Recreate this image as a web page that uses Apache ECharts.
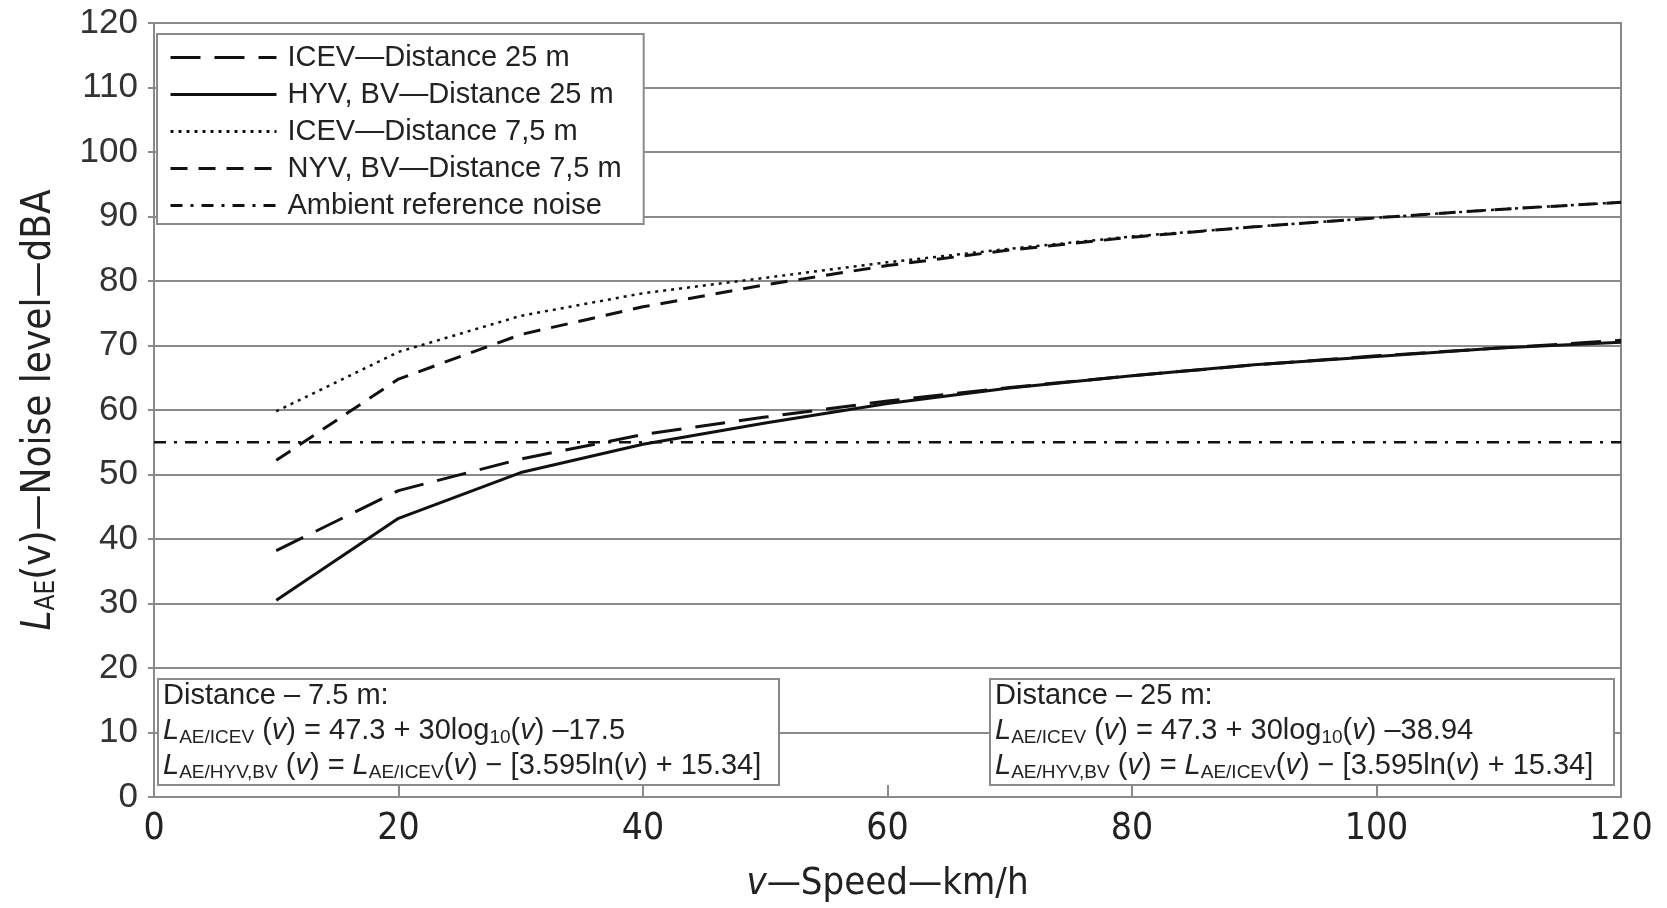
<!DOCTYPE html>
<html>
<head>
<meta charset="utf-8">
<script src="https://cdn.jsdelivr.net/npm/echarts@6/dist/echarts.min.js"></script>
<style>
  html, body { margin: 0; padding: 0; background: #fff; }
  #main { width: 1667px; height: 908px; }
</style>
</head>
<body>
<div id="main"></div>
<script>
// speeds in km/h
var speeds = [10, 20, 30, 40, 50, 60, 70, 80, 90, 100, 110, 120];
// values, dBA
var icev25 = [38.2, 47.5, 52.4, 56.2, 58.9, 61.4, 63.5, 65.3, 67.0, 68.4, 69.6, 70.8];
var hyv25 = [30.5, 43.2, 50.3, 54.7, 58.0, 61.0, 63.4, 65.3, 67.0, 68.3, 69.6, 70.5];
var icev75 = [59.8, 69.0, 74.6, 78.1, 80.5, 82.9, 85.0, 86.9, 88.4, 89.8, 91.1, 92.2];
var nyv75 = [52.2, 64.8, 71.7, 76.0, 79.4, 82.4, 84.8, 86.8, 88.4, 89.8, 91.1, 92.2];
var ambientSpeeds = [0, 120];
var ambient = [55, 55];
var yTicks = [0, 10, 20, 30, 40, 50, 60, 70, 80, 90, 100, 110, 120];
var xTicks = [0, 20, 40, 60, 80, 100, 120];

function pairs(xs, ys) {
  return xs.map(function (x, i) { return [x, ys[i]]; });
}

var myChart = echarts.init(document.getElementById('main'));

var txt = '#222';
var condensed = '"Liberation Sans Narrow", "DejaVu Sans Condensed", "Liberation Sans", Arial, sans-serif';
var sans = '"Liberation Sans", Arial, sans-serif';

function lineSeries(name, data, type, w) {
  return {
    name: name,
    type: 'line',
    data: data,
    symbol: 'none',
    showSymbol: false,
    animation: false,
    lineStyle: { color: '#111', width: w || 3, type: type },
    itemStyle: { color: '#111' },
    z: 5
  };
}

var boxRich = {
  n: { fontSize: 29, fontFamily: sans, color: txt },
  i: { fontSize: 29, fontFamily: sans, fontStyle: 'italic', color: txt },
  s: { fontSize: 19, fontFamily: sans, color: txt, padding: [14, 0, 0, 0] }
};

function formulaBox(left, top, w, head, tail) {
  return {
    type: 'group',
    left: left,
    top: top,
    z: 100,
    children: [
      {
        type: 'rect',
        z: 100,
        shape: { x: 0, y: 0, width: w, height: 106 },
        style: { fill: '#fff', stroke: '#8a8a8a', lineWidth: 2 }
      },
      {
        type: 'text',
        z: 101,
        x: 5, y: -1,
        style: {
          text: '{n|' + head + '}\n' +
            '{i|L}{s|AE/ICEV}{n| (}{i|v}{n|) = 47.3 + 30log}{s|10}{n|(}{i|v}{n|) ' + tail + '}\n' +
            '{i|L}{s|AE/HYV,BV}{n| (}{i|v}{n|) = }{i|L}{s|AE/ICEV}{n|(}{i|v}{n|) − [3.595ln(}{i|v}{n|) + 15.34]}',
          rich: boxRich,
          lineHeight: 35,
          fill: txt
        }
      }
    ]
  };
}

var option = {
  backgroundColor: '#fff',
  animation: false,
  grid: { left: 154, right: 46, top: 23, bottom: 111, show: true, borderColor: '#8a8a8a', borderWidth: 2 },
  legend: {
    left: 157,
    top: 34,
    orient: 'vertical',
    backgroundColor: '#fff',
    borderColor: '#8a8a8a',
    borderWidth: 2,
    borderRadius: 0,
    padding: [9, 22, 4, 12],
    itemWidth: 106,
    itemHeight: 30,
    itemGap: 8,
    itemStyle: { opacity: 0 },
    lineStyle: { width: 3 },
    textStyle: { fontSize: 29, fontFamily: sans, color: txt, padding: [0, 0, 0, 6] },
    data: ['ICEV—Distance 25 m', 'HYV, BV—Distance 25 m', 'ICEV—Distance 7,5 m', 'NYV, BV—Distance 7,5 m', 'Ambient reference noise']
  },
  xAxis: {
    type: 'value',
    min: 0,
    max: 120,
    interval: 20,
    name: '{i|v}{n|—Speed—km/h}',
    nameLocation: 'middle',
    nameGap: 68,
    nameTextStyle: {
      color: txt,
      rich: {
        n: { fontSize: 38, fontFamily: condensed, color: txt },
        i: { fontSize: 38, fontFamily: condensed, fontStyle: 'italic', color: txt }
      }
    },
    axisLine: { show: false },
    axisTick: { show: true, inside: true, length: 12, lineStyle: { color: '#8a8a8a', width: 2 } },
    axisLabel: {
      fontSize: 37, fontFamily: condensed, color: txt, margin: 14,
      customValues: xTicks
    },
    splitLine: { show: false }
  },
  yAxis: {
    type: 'value',
    min: 0,
    max: 120,
    interval: 10,
    name: '{i|L}{s|AE}{n|(v)—Noise level—dBA}',
    nameLocation: 'middle',
    nameGap: 94,
    nameRotate: 90,
    nameTextStyle: {
      color: txt,
      rich: {
        n: { fontSize: 40, fontFamily: condensed, color: txt },
        i: { fontSize: 40, fontFamily: condensed, fontStyle: 'italic', color: txt },
        s: { fontSize: 26, fontFamily: condensed, color: txt, padding: [15, 0, 0, 0] }
      }
    },
    axisLine: { show: false },
    axisTick: { show: true, inside: false, length: 6, lineStyle: { color: '#8a8a8a', width: 2 } },
    axisLabel: {
      fontSize: 35, fontFamily: sans, color: '#333', margin: 16,
      customValues: yTicks
    },
    splitLine: { show: true, lineStyle: { color: '#8a8a8a', width: 2 } }
  },
  series: [
    lineSeries('ICEV—Distance 25 m', pairs(speeds, icev25), [30, 14]),
    lineSeries('HYV, BV—Distance 25 m', pairs(speeds, hyv25), 'solid'),
    lineSeries('ICEV—Distance 7,5 m', pairs(speeds, icev75), [3, 5], 2.5),
    lineSeries('NYV, BV—Distance 7,5 m', pairs(speeds, nyv75), [17, 11]),
    lineSeries('Ambient reference noise', pairs(ambientSpeeds, ambient), [12, 8, 3, 8], 2.5)
  ],
  graphic: [
    formulaBox(157, 678, 621, 'Distance – 7.5 m:', '–17.5'),
    formulaBox(989, 678, 624, 'Distance – 25 m:', '–38.94')
  ]
};

option && myChart.setOption(option);
</script>
</body>
</html>
